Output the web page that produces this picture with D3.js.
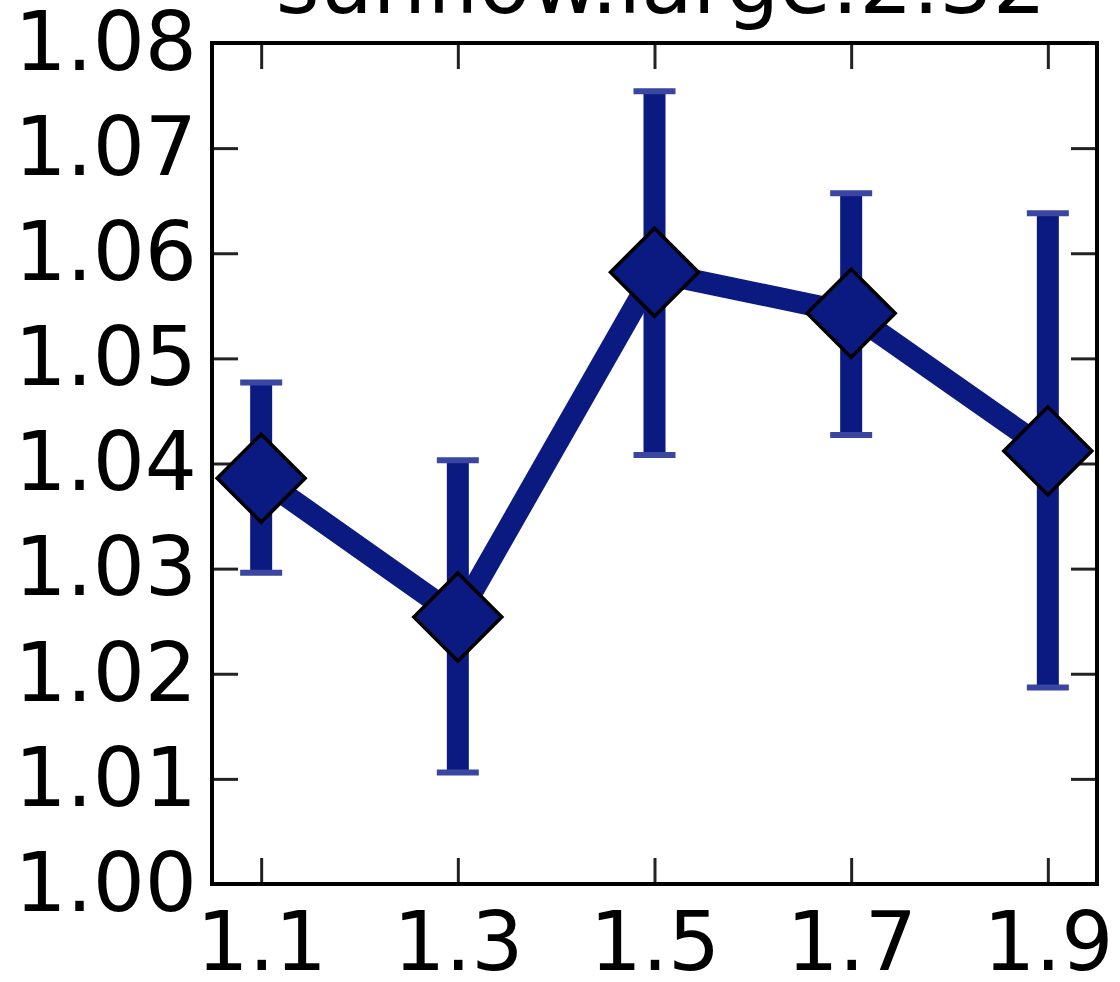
<!DOCTYPE html>
<html>
<head>
<meta charset="utf-8">
<script src="https://cdn.jsdelivr.net/npm/d3@7"></script>
<style>
  html, body { margin: 0; padding: 0; background: #fff; }
  svg { display: block; }
  text { font-family: "DejaVu Sans", sans-serif; fill: #000; }
</style>
</head>
<body>
<svg id="chart" width="1120" height="982"></svg>
<script>
// Speedup per heap factor for the benchmark
const title = "sunflow.large:2.32";
const xValues = [1.1, 1.3, 1.5, 1.7, 1.9];
const yValues = [1.0386, 1.0254, 1.0582, 1.0543, 1.0412];
const yLow    = [1.0296, 1.0106, 1.0408, 1.0427, 1.0187];
const yHigh   = [1.0477, 1.0403, 1.0754, 1.0657, 1.0638];
const xTicks  = [1.1, 1.3, 1.5, 1.7, 1.9];
const yTicks  = [1.00, 1.01, 1.02, 1.03, 1.04, 1.05, 1.06, 1.07, 1.08];

const plotLeft = 212, plotRight = 1097, plotTop = 43, plotBottom = 884;
const color = "#0b1a80";
const fontSize = 82;
const titleSize = 84;

const svg = d3.select("#chart");
const x = d3.scaleLinear().domain([1.05, 1.95]).range([plotLeft, plotRight]);
const y = d3.scaleLinear().domain([1.00, 1.08]).range([plotBottom, plotTop]);

// Title (sits partly above the canvas)
svg.append("text")
  .attr("x", 661)
  .attr("y", 13)
  .attr("text-anchor", "middle")
  .style("font-size", titleSize + "px")
  .text(title);

const tickLen = 26;
const tickStyle = g => g.selectAll(".tick line").attr("stroke", "#222").attr("stroke-width", 3);

// Axes with inward ticks on all four sides
const xBottom = svg.append("g").attr("transform", `translate(0,${plotBottom})`)
  .call(d3.axisBottom(x).tickValues(xTicks).tickSize(-tickLen).tickPadding(28)
    .tickFormat(d3.format(".1f")));
const xTopAxis = svg.append("g").attr("transform", `translate(0,${plotTop})`)
  .call(d3.axisTop(x).tickValues(xTicks).tickSize(-tickLen).tickFormat(""));
const yLeft = svg.append("g").attr("transform", `translate(${plotLeft},0)`)
  .call(d3.axisLeft(y).tickValues(yTicks).tickSize(-tickLen).tickPadding(15)
    .tickFormat(d3.format(".2f")));
const yRight = svg.append("g").attr("transform", `translate(${plotRight},0)`)
  .call(d3.axisRight(y).tickValues(yTicks).tickSize(-tickLen).tickFormat(""));

[xBottom, xTopAxis, yLeft, yRight].forEach(g => {
  g.select(".domain").remove();
  tickStyle(g);
  g.selectAll("text").style("font-size", fontSize + "px").attr("fill", "#000")
    .style("font-family", "'DejaVu Sans', sans-serif");
});
xBottom.selectAll("text").attr("dy", "0.71em");

const data = xValues.map((v, i) => ({x: v, y: yValues[i], lo: yLow[i], hi: yHigh[i]}));

const plot = svg.append("g");

// Connecting line
plot.append("path")
  .datum(data)
  .attr("fill", "none")
  .attr("stroke", color)
  .attr("stroke-width", 22)
  .attr("stroke-linejoin", "miter")
  .attr("d", d3.line().x(d => x(d.x)).y(d => y(d.y)));

// Error bars
const eb = plot.selectAll(".eb").data(data).enter().append("g");
eb.append("line")
  .attr("x1", d => x(d.x)).attr("x2", d => x(d.x))
  .attr("y1", d => y(d.lo)).attr("y2", d => y(d.hi))
  .attr("stroke", color).attr("stroke-width", 22);
eb.selectAll(".cap").data(d => [[d.x, d.lo], [d.x, d.hi]]).enter().append("line")
  .attr("x1", d => x(d[0]) - 21).attr("x2", d => x(d[0]) + 21)
  .attr("y1", d => y(d[1])).attr("y2", d => y(d[1]))
  .attr("stroke", "#3a46a0").attr("stroke-width", 6);

// Diamond markers
const half = 44;
plot.selectAll(".mk").data(data).enter().append("path")
  .attr("d", d => {
    const cx = x(d.x), cy = y(d.y);
    return `M${cx},${cy - half}L${cx + half},${cy}L${cx},${cy + half}L${cx - half},${cy}Z`;
  })
  .attr("fill", color)
  .attr("stroke", "#000")
  .attr("stroke-width", 3.5);

// Frame
svg.append("rect")
  .attr("x", plotLeft).attr("y", plotTop)
  .attr("width", plotRight - plotLeft).attr("height", plotBottom - plotTop)
  .attr("fill", "none").attr("stroke", "#000").attr("stroke-width", 4);
</script>
</body>
</html>
